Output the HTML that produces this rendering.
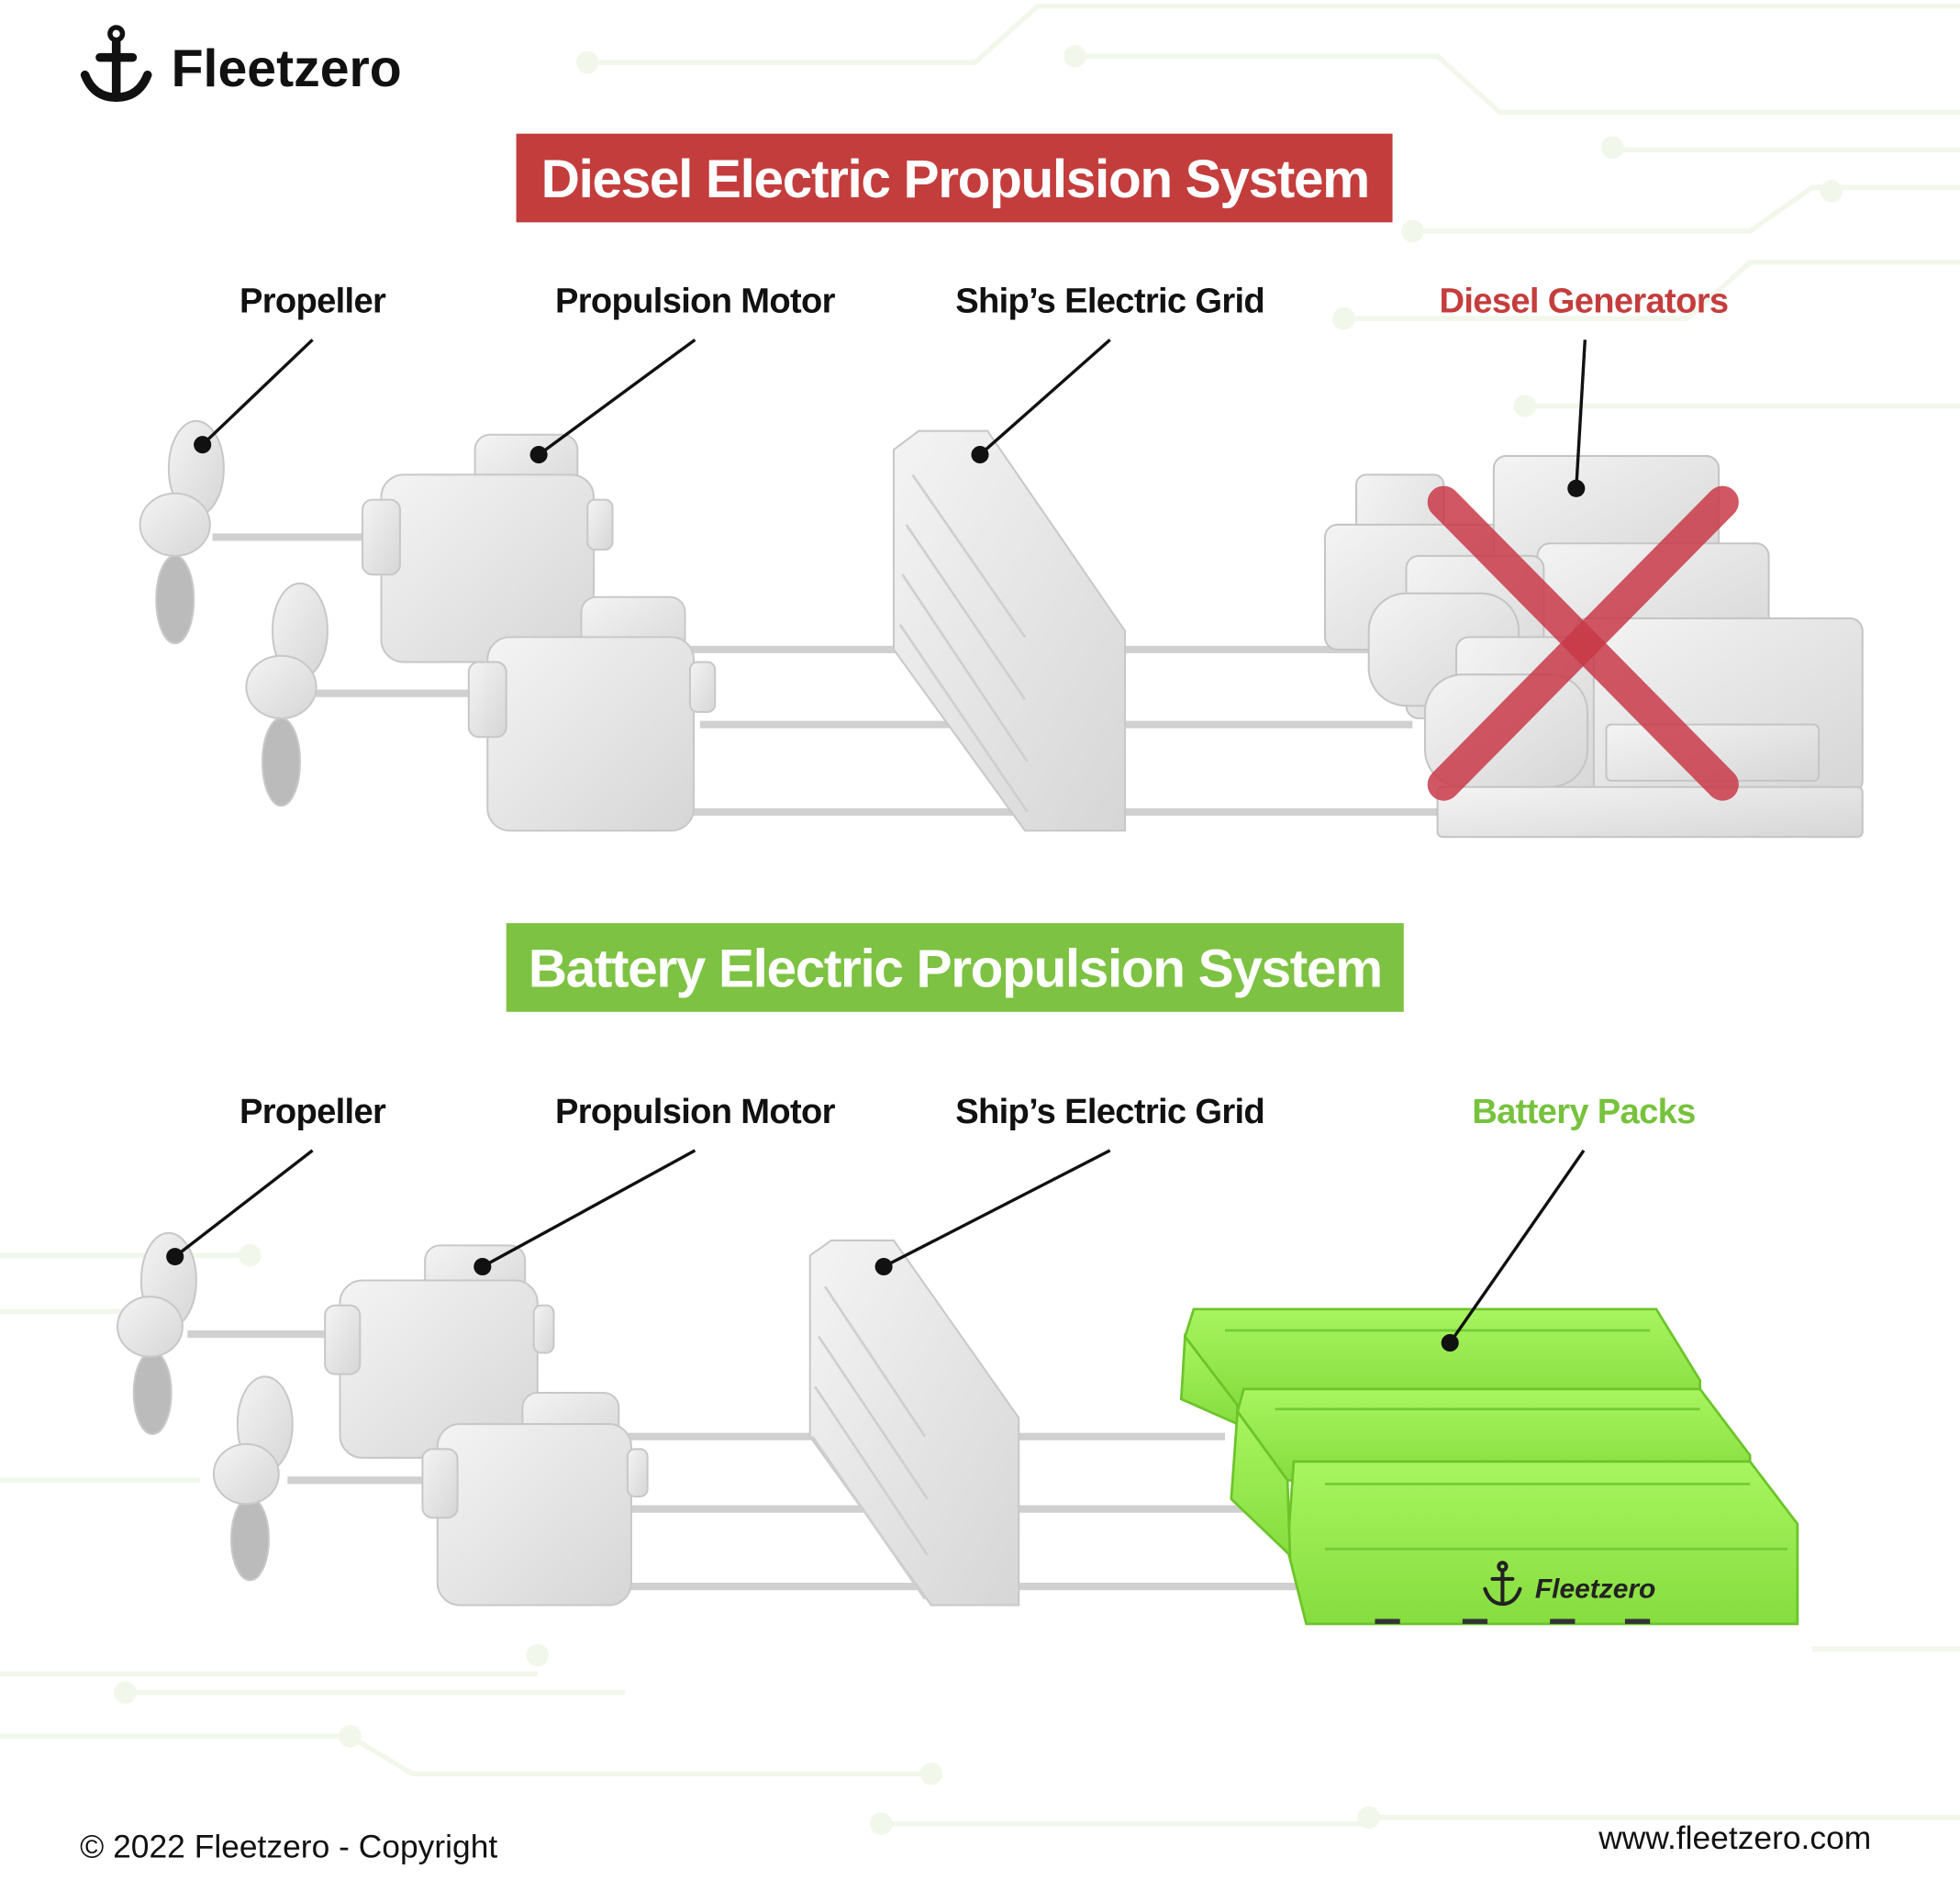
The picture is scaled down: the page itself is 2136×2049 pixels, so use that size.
<!DOCTYPE html>
<html><head><meta charset="utf-8"><style>
html,body{margin:0;padding:0;background:#fff;}
svg{display:block;}
text{font-family:"Liberation Sans",sans-serif;}
</style></head><body>
<svg width="2136" height="2049" viewBox="0 0 1568 1505" preserveAspectRatio="none" xmlns="http://www.w3.org/2000/svg">
<defs>
<linearGradient id="g" x1="0" y1="0" x2="1" y2="1"><stop offset="0" stop-color="#f4f4f4"/><stop offset="1" stop-color="#d6d6d6"/></linearGradient>
<linearGradient id="gg" x1="0" y1="0" x2="0" y2="1"><stop offset="0" stop-color="#a8f55f"/><stop offset="1" stop-color="#86dd3f"/></linearGradient>
</defs>
<g stroke="#f1f7ea" stroke-width="4" fill="none">
<path d="M470 50 H780 L830 5 H1568"/><path d="M860 45 H1150 L1200 90 H1568"/><path d="M1130 185 H1400 L1450 150 H1568"/><path d="M1080 255 H1350 L1400 210 H1568"/><path d="M1220 325 H1568"/><path d="M1290 120 H1568"/>
<path d="M0 1005 H200"/><path d="M0 1050 H120"/><path d="M0 1185 H160"/><path d="M0 1340 H430"/><path d="M0 1390 H280 L330 1420 H740"/><path d="M100 1355 H500"/><path d="M700 1460 H1100"/><path d="M1100 1455 H1568"/><path d="M1450 1320 H1568"/>
</g>
<g fill="#f1f7ea"><circle cx="470" cy="50" r="9"/><circle cx="860" cy="45" r="9"/><circle cx="1130" cy="185" r="9"/><circle cx="1465" cy="153" r="9"/><circle cx="1075" cy="255" r="9"/><circle cx="1220" cy="325" r="9"/><circle cx="1290" cy="118" r="9"/><circle cx="200" cy="1005" r="9"/><circle cx="430" cy="1325" r="9"/><circle cx="280" cy="1390" r="9"/><circle cx="745" cy="1420" r="9"/><circle cx="100" cy="1355" r="9"/><circle cx="705" cy="1460" r="9"/><circle cx="1095" cy="1455" r="9"/></g>

<g stroke="#111" stroke-width="7" fill="none" stroke-linecap="round">
<circle cx="93" cy="27" r="5" stroke-width="4"/>
<line x1="93" y1="34" x2="93" y2="76"/><line x1="80" y1="46" x2="106" y2="46"/>
<path d="M68 60 Q75 78 93 78 Q111 78 118 60"/>
</g>
<text x="137" y="69" font-size="42" font-weight="bold" fill="#111">Fleetzero</text>

<rect x="413" y="107" width="701" height="71" fill="#c43d3d"/>
<text x="764" y="158" font-size="43" font-weight="bold" fill="#fff" text-anchor="middle" letter-spacing="-1">Diesel Electric Propulsion System</text>

<g font-size="28" font-weight="bold" text-anchor="middle" letter-spacing="-0.5">
<text x="250" y="250" fill="#111">Propeller</text>
<text x="556" y="250" fill="#111">Propulsion Motor</text>
<text x="888" y="250" fill="#111">Ship’s Electric Grid</text>
<text x="1267" y="250" fill="#c43d3d">Diesel Generators</text>
<text x="250" y="899" fill="#111">Propeller</text>
<text x="556" y="899" fill="#111">Propulsion Motor</text>
<text x="888" y="899" fill="#111">Ship’s Electric Grid</text>
<text x="1267" y="899" fill="#77c23d">Battery Packs</text>
</g>

<g stroke="#d0d0d0" stroke-width="6"><line x1="540" y1="520" x2="1100" y2="520"/><line x1="560" y1="580" x2="1130" y2="580"/><line x1="540" y1="650" x2="1170" y2="650"/><line x1="170" y1="430" x2="300" y2="430"/><line x1="250" y1="555" x2="385" y2="555"/></g>
<g fill="url(#g)" stroke="#c8c8c8" stroke-width="1.5">
<ellipse cx="157" cy="375" rx="22" ry="38"/><ellipse cx="140" cy="480" rx="15" ry="35" fill="#bbb"/><ellipse cx="140" cy="420" rx="28" ry="25"/>
<ellipse cx="240" cy="505" rx="22" ry="38"/><ellipse cx="225" cy="610" rx="15" ry="35" fill="#bbb"/><ellipse cx="225" cy="550" rx="28" ry="25"/>
<rect x="380" y="348" width="82" height="55" rx="12"/><rect x="305" y="380" width="170" height="150" rx="18"/><rect x="290" y="400" width="30" height="60" rx="8"/><rect x="470" y="400" width="20" height="40" rx="6"/>
<rect x="465" y="478" width="83" height="55" rx="12"/><rect x="390" y="510" width="165" height="155" rx="18"/><rect x="375" y="530" width="30" height="60" rx="8"/><rect x="552" y="530" width="20" height="40" rx="6"/>
<polygon points="735,345 790,345 900,505 900,665 820,665 715,520 715,360"/>
</g>
<g stroke="#cfcfcf" stroke-width="2" fill="none">
<path d="M730 380 L820 510 M725 420 L820 560 M722 460 L822 610 M720 500 L822 650"/>
</g>
<g fill="url(#g)" stroke="#c5c5c5" stroke-width="1.5">
<rect x="1085" y="380" width="70" height="140" rx="8"/><rect x="1060" y="420" width="150" height="100" rx="10"/>
<rect x="1195" y="365" width="180" height="100" rx="10"/><rect x="1230" y="435" width="185" height="90" rx="10"/>
<rect x="1125" y="445" width="110" height="130" rx="10"/><rect x="1095" y="475" width="120" height="90" rx="30"/>
<rect x="1260" y="495" width="230" height="140" rx="10"/><rect x="1165" y="510" width="110" height="140" rx="10"/>
<rect x="1140" y="540" width="130" height="90" rx="30"/><rect x="1150" y="630" width="340" height="40" rx="4"/>
<rect x="1285" y="580" width="170" height="45" rx="4"/>
</g>
<g stroke="#c83a48" stroke-opacity="0.85" stroke-width="26" stroke-linecap="round"><line x1="1155" y1="402" x2="1378" y2="628"/><line x1="1378" y1="402" x2="1155" y2="628"/></g>

<rect x="405" y="739" width="718" height="71" fill="#7dc242"/>
<text x="764" y="790" font-size="43" font-weight="bold" fill="#fff" text-anchor="middle" letter-spacing="-1">Battery Electric Propulsion System</text>

<g stroke="#d0d0d0" stroke-width="6"><line x1="480" y1="1150" x2="980" y2="1150"/><line x1="500" y1="1208" x2="1010" y2="1208"/><line x1="480" y1="1270" x2="1050" y2="1270"/><line x1="150" y1="1068" x2="270" y2="1068"/><line x1="230" y1="1185" x2="350" y2="1185"/></g>
<g fill="url(#g)" stroke="#c8c8c8" stroke-width="1.5">
<ellipse cx="135" cy="1025" rx="22" ry="38"/><ellipse cx="122" cy="1115" rx="15" ry="33" fill="#bbb"/><ellipse cx="120" cy="1062" rx="26" ry="24"/>
<ellipse cx="212" cy="1140" rx="22" ry="38"/><ellipse cx="200" cy="1232" rx="15" ry="33" fill="#bbb"/><ellipse cx="197" cy="1180" rx="26" ry="24"/>
<rect x="340" y="997" width="80" height="52" rx="12"/><rect x="272" y="1025" width="158" height="142" rx="18"/><rect x="260" y="1045" width="28" height="55" rx="8"/><rect x="427" y="1045" width="16" height="38" rx="6"/>
<rect x="418" y="1115" width="77" height="50" rx="12"/><rect x="350" y="1140" width="155" height="145" rx="18"/><rect x="338" y="1160" width="28" height="55" rx="8"/><rect x="502" y="1160" width="16" height="38" rx="6"/>
<polygon points="665,993 715,993 815,1135 815,1285 745,1285 648,1150 648,1005"/>
</g>
<g stroke="#cfcfcf" stroke-width="2" fill="none"><path d="M660 1030 L740 1150 M655 1070 L742 1200 M652 1110 L742 1245 M650 1150 L740 1280"/></g>
<g fill="url(#gg)" stroke="#6cc42a" stroke-width="2">
<polygon points="955,1048 1325,1048 1360,1105 1360,1125 990,1125 948,1070"/>
<polygon points="995,1112 1360,1112 1400,1165 1400,1185 1030,1185 990,1130"/>
<polygon points="1035,1170 1400,1170 1438,1220 1438,1300 1045,1300 1030,1240"/>
<polygon points="948,1070 990,1125 990,1140 945,1120"/>
<polygon points="990,1130 1030,1185 1032,1245 985,1200"/>
</g>
<g stroke="#73cc35" stroke-width="2"><path d="M980 1065 H1320 M1020 1128 H1360 M1060 1188 H1400 M1060 1240 H1430"/></g>
<g fill="#333"><rect x="1100" y="1296" width="20" height="4"/><rect x="1170" y="1296" width="20" height="4"/><rect x="1240" y="1296" width="20" height="4"/><rect x="1300" y="1296" width="20" height="4"/></g>
<g stroke="#222" stroke-width="3" fill="none" stroke-linecap="round">
<circle cx="1202" cy="1254" r="3"/><line x1="1202" y1="1258" x2="1202" y2="1282"/><line x1="1194" y1="1264" x2="1210" y2="1264"/><path d="M1188 1272 Q1192 1284 1202 1284 Q1212 1284 1216 1272"/>
</g>
<text x="1228" y="1279" font-size="22" font-weight="bold" font-style="italic" fill="#222">Fleetzero</text>

<g stroke="#111" stroke-width="2.5"><line x1="250" y1="272" x2="162" y2="356"/><line x1="556" y1="272" x2="431" y2="364"/><line x1="888" y1="272" x2="784" y2="364"/><line x1="1268" y1="272" x2="1261" y2="391"/>
<line x1="250" y1="921" x2="140" y2="1006"/><line x1="556" y1="921" x2="386" y2="1014"/><line x1="888" y1="921" x2="707" y2="1014"/><line x1="1267" y1="921" x2="1160" y2="1075"/></g>
<g fill="#111"><circle cx="162" cy="356" r="7"/><circle cx="431" cy="364" r="7"/><circle cx="784" cy="364" r="7"/><circle cx="1261" cy="391" r="7"/><circle cx="140" cy="1006" r="7"/><circle cx="386" cy="1014" r="7"/><circle cx="707" cy="1014" r="7"/><circle cx="1160" cy="1075" r="7"/></g>

<text x="64" y="1487" font-size="26" fill="#111">© 2022 Fleetzero - Copyright</text>
<text x="1497" y="1480" font-size="26" fill="#111" text-anchor="end">www.fleetzero.com</text>
</svg>
</body></html>
